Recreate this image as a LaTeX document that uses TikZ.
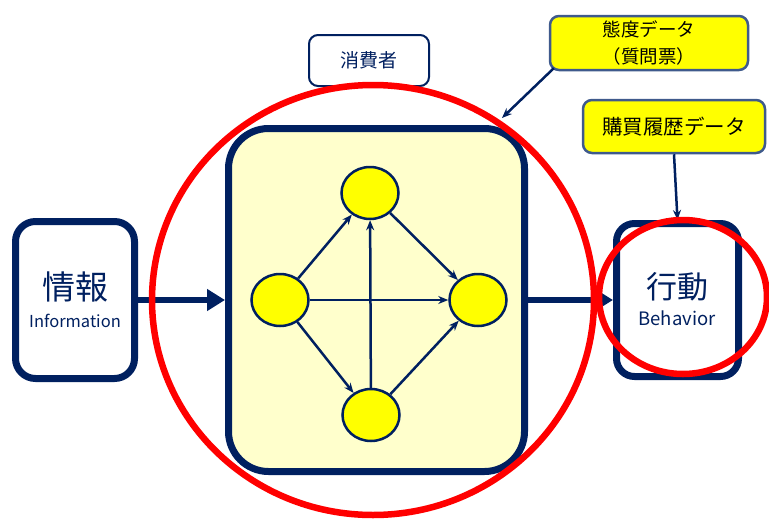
\documentclass[tikz,border=0pt]{standalone}
\usepackage{fontspec}
\setmainfont{Noto Sans CJK JP}
\usetikzlibrary{arrows.meta,shapes.geometric}
\definecolor{navy}{HTML}{002060}
\definecolor{lightyel}{HTML}{FFFFCC}
\definecolor{yel}{HTML}{FFFF00}
\definecolor{steel}{HTML}{3F5A8C}
\definecolor{redc}{HTML}{FF0000}
\tikzset{
  bigbox/.style={draw=navy, line width=7pt, fill=white, rounded corners=20pt, inner sep=0pt},
  bigtext/.style={text=navy, inner sep=0pt, font=\fontsize{33}{36}\selectfont},
  smalltext/.style={text=navy, inner sep=0pt},
  knode/.style={ellipse, draw=navy, line width=2.5pt, fill=yel, minimum width=57pt, minimum height=52pt, inner sep=0pt},
  karrow/.style={draw=navy, line width=2.5pt, -{Stealth[length=10pt,width=8pt]}},
  bigarrow/.style={draw=navy, line width=6pt, -{Triangle[length=18pt,width=21pt]}},
  labelbox/.style={draw=navy, line width=2pt, fill=white, rounded corners=9pt, text=navy, inner sep=0pt},
  databox/.style={draw=steel, line width=2.5pt, fill=yel, rounded corners=9pt, text=black, inner sep=0pt, align=center},
  dataarrow/.style={draw=navy, line width=2.5pt, -{Stealth[length=10pt,width=8pt]}},
  redring/.style={draw=redc, line width=6.5pt}
}
\begin{document}
\begin{tikzpicture}[x=1pt,y=-1pt]
\useasboundingbox (0,0) rectangle (769,520);
% main consumer box
\node[draw=navy, line width=7pt, fill=lightyel, rounded corners=40pt, minimum width=296pt, minimum height=343pt] (main) at (376.5,300) {};
% inner nodes
\node[knode] (top) at (370,193) {};
\node[knode] (left) at (280,300) {};
\node[knode] (right) at (478,300) {};
\node[knode] (bot) at (371,415) {};
\draw[karrow] (left) -- (top);
\draw[karrow] (left) -- (bot);
\draw[karrow] (left) -- (right);
\draw[karrow] (bot) -- (top);
\draw[karrow] (top) -- (right);
\draw[karrow] (bot) -- (right);
% info and behavior
\node[bigbox, minimum width=119pt, minimum height=157pt] (info) at (75,300) {};
\node[bigtext] (infoj) at (75,287) {情報};
\node[smalltext, font=\fontsize{16.5}{18}\selectfont] (infoe) at (75,321) {Information};
\node[bigbox, rounded corners=18pt, minimum width=122pt, minimum height=153pt] (beh) at (677.5,300) {};
\node[bigtext, font=\fontsize{31}{36}\selectfont] (behj) at (677,287) {行動};
\node[smalltext, font=\fontsize{18.5}{20}\selectfont] (behe) at (677,318) {Behavior};
\draw[bigarrow] (info.east) -- (main.west);
\draw[bigarrow] (main.east) -- (beh.west);
% labels
\node[labelbox, minimum width=120pt, minimum height=51pt, font=\fontsize{19}{22}\selectfont] (cons) at (369,60.5) {消費者};
\node[databox, minimum width=198pt, minimum height=54pt, font=\fontsize{18.5}{22}\selectfont] (tai) at (649,43) {態度データ\\[5pt]（質問票）};
\node[databox, minimum width=182pt, minimum height=53pt, font=\fontsize{20.5}{22}\selectfont] (kou) at (674,126.5) {購買履歴データ};
\coordinate (taitip) at (502,118);
\draw[dataarrow] ([shift={(5,-3)}]tai.south west) -- (taitip);
\draw[dataarrow] (kou.south) -- (beh.north);
% red rings
\draw[redring] (373,300) ellipse [x radius=221, y radius=215];
\draw[redring] (683,297) ellipse [x radius=84, y radius=77];
\end{tikzpicture}
\end{document}
